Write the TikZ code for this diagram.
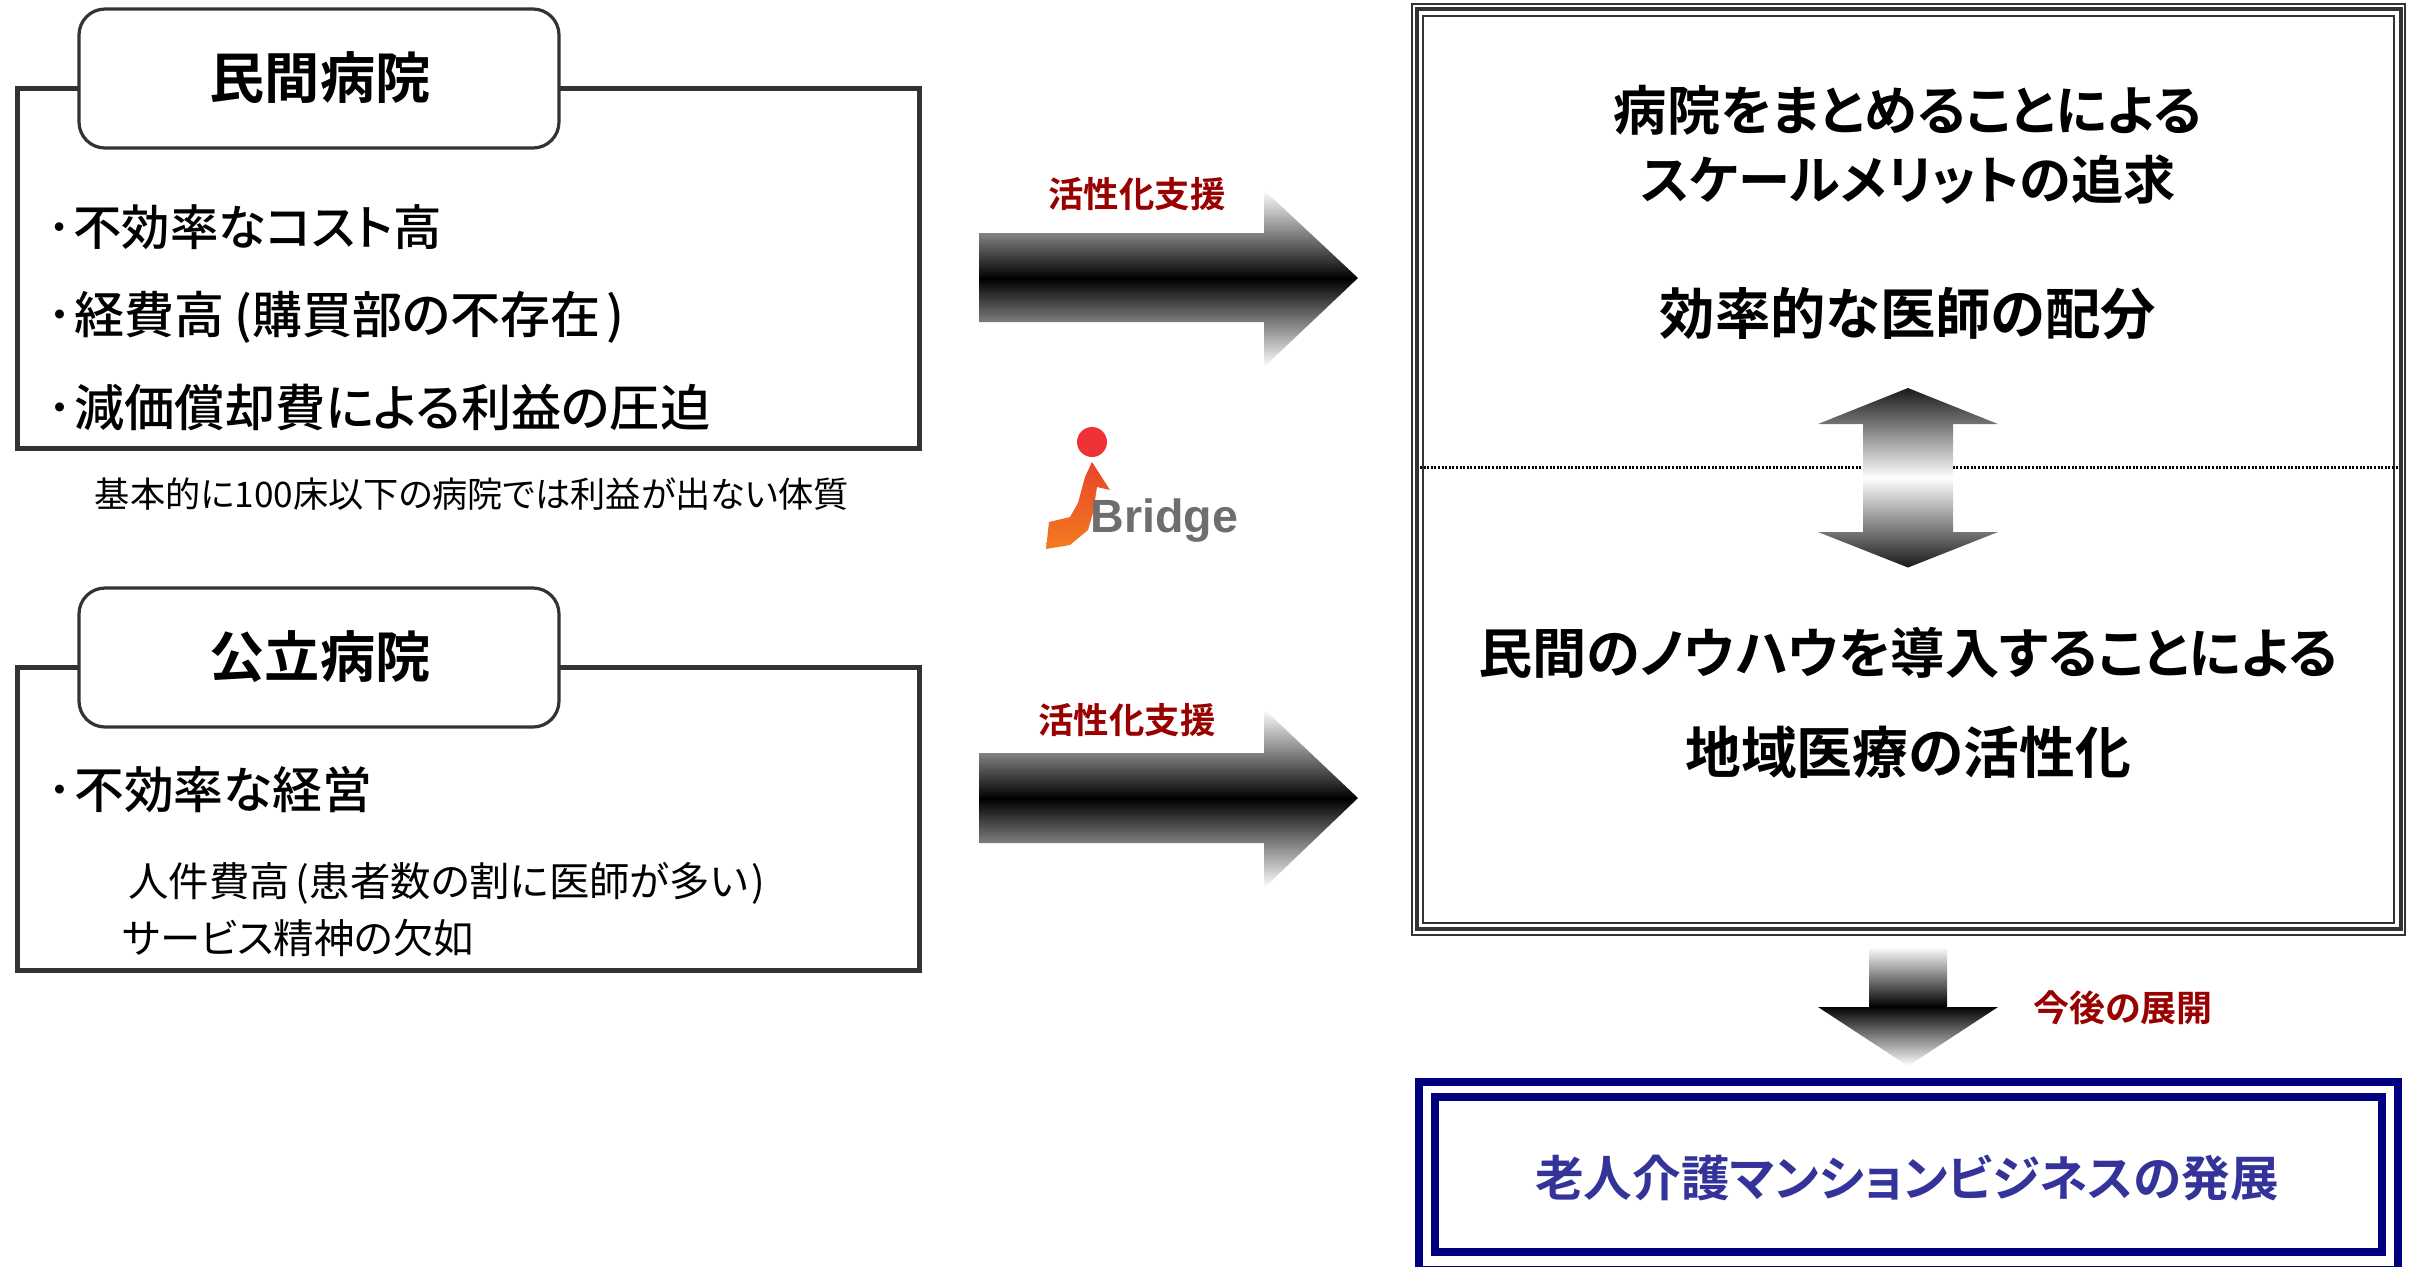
\documentclass[tikz,border=0pt]{standalone}
\usepackage{fontspec}
\setmainfont{Noto Sans CJK JP}[BoldFont={Noto Sans CJK JP Bold},RawFeature=+palt]
\newfontfamily\medfont{Noto Sans CJK JP Medium}[RawFeature=+palt]
\newfontfamily\regfont{Noto Sans CJK JP}[RawFeature=+palt]
\newfontfamily\logofont{Liberation Sans}
\definecolor{frame}{HTML}{333333}
\definecolor{dred}{HTML}{990000}
\definecolor{navyb}{HTML}{000080}
\definecolor{indigoT}{HTML}{333399}
\definecolor{logored}{HTML}{EE3338}
\definecolor{logoorange}{HTML}{F47B20}
\definecolor{logotop}{HTML}{E8452A}
\definecolor{logogray}{HTML}{6E6E6E}
\newcommand{\fs}[1]{\fontsize{#1}{#1}\selectfont}
\tikzset{
  x=0.5pt,y=-0.5pt,
  frameline/.style={draw=frame,line width=2.5pt},
  tagbox/.style={draw=frame,line width=1.6pt,fill=white,rounded corners=13pt},
  listtext/.style={anchor=west,inner sep=0pt,text=black},
  boldtext/.style={inner sep=0pt,text=black,font=\bfseries},
  redlabel/.style={inner sep=0pt,text=dred,font=\bfseries},
  sharrow/.style={top color=white,bottom color=white,middle color=black,draw=none},
  dblarrow/.style={top color=black!90,bottom color=black!90,middle color=white,draw=none},
}
\begin{document}
\begin{tikzpicture}
\useasboundingbox (0,0) rectangle (2411,1266);
% left boxes
\draw[frameline] (17,88) rectangle (919,448);
\node[tagbox,minimum width=240pt,minimum height=69.5pt] (t1) at (319,78.5) {};
\node[boldtext] (t1text) at (320,78) {\fs{27.6}民間病院};
\node[listtext] (a1) at (47,227) {\medfont\fs{24.2}･\kern1pt 不効率なコスト高};
\node[listtext] (a2) at (47,317) {\medfont\fs{25}･\kern1pt 経費高\kern5pt(購買部の不存在\kern3pt)};
\node[listtext] (a3) at (47,407) {\medfont\fs{25.1}･\kern1pt 減価償却費による利益の圧迫};
\node[inner sep=0pt] (note) at (472,494) {\regfont\fs{17.6}基本的に100床以下の病院では利益が出ない体質};
\draw[frameline] (17,667) rectangle (919,970);
\node[tagbox,minimum width=240pt,minimum height=69.5pt] (t2) at (319,657.5) {};
\node[boldtext] (t2text) at (320,657) {\fs{27.6}公立病院};
\node[listtext] (b1) at (47,790) {\medfont\fs{24.9}･\kern1pt 不効率な経営};
\node[listtext] (b2) at (128,883) {\regfont\fs{20.2}人件費高\kern3pt(患者数の割に医師が多い\kern2pt)};
\node[listtext] (b3) at (122,938) {\regfont\fs{20.2}サービス精神の欠如};
% right arrows
\shade[sharrow] (979,233) -- (1264,233) -- (1264,190) -- (1358,278) -- (1264,367) -- (1264,322) -- (979,322) -- cycle;
\shade[sharrow] (979,753) -- (1264,753) -- (1264,709) -- (1358,798) -- (1264,888) -- (1264,843) -- (979,843) -- cycle;
\node[redlabel] (l1) at (1137,194) {\fs{17.7}活性化支援};
\node[redlabel] (l2) at (1127,720) {\fs{17.7}活性化支援};
% logo
\fill[logored] (1092,442) circle (15);
\shade[bottom color=logoorange,top color=logotop,draw=none] (1046,549) -- (1049,522) -- (1070,517) -- (1078,503) -- (1085,477) -- (1092,462) -- (1110,490) -- (1097,487) -- (1093,513) -- (1088,530) -- (1070,545) -- cycle;
\node[inner sep=0pt,anchor=base west,text=logogray] (logo) at (1090,532) {\logofont\bfseries\fs{23.3}Bridge};
% right panel
\draw[draw=frame,line width=1pt] (1412,3.5) rectangle (2405,935);
\draw[draw=frame,line width=2pt] (1416.5,9) rectangle (2401,929);
\draw[draw=frame,line width=1pt] (1423,15.5) rectangle (2394,923);
\node[boldtext] (r1) at (1908,110) {\fs{26.65}病院をまとめることによる};
\node[boldtext] (r2) at (1908,180) {\fs{26.1}スケールメリットの追求};
\node[boldtext] (r3) at (1908,314) {\fs{27.7}効率的な医師の配分};
\draw[line width=1.3pt,dash pattern=on 1pt off 0.8pt,black] (1420,467.5) -- (2398,467.5);
\shade[dblarrow] (1908,388) -- (1998,424) -- (1953,424) -- (1953,532) -- (1998,532) -- (1908,567.5) -- (1818,532) -- (1863,532) -- (1863,424) -- (1818,424) -- cycle;
\node[boldtext] (r4) at (1908,653) {\fs{27.1}民間のノウハウを導入することによる};
\node[boldtext] (r5) at (1908,752) {\fs{27.9}地域医療の活性化};
% down arrow
\shade[sharrow] (1869,947) -- (1947,947) -- (1947,1007) -- (1998,1007) -- (1908,1066) -- (1818,1007) -- (1869,1007) -- cycle;
\node[redlabel] (l3) at (2123,1008) {\fs{18}今後の展開};
% blue box
\draw[draw=navyb,line width=4pt] (1419,1082) rectangle (2398,1270);
\draw[draw=navyb,line width=4pt] (1435,1097) rectangle (2382,1252);
\node[inner sep=0pt,text=indigoT,font=\bfseries] (n1) at (1907,1178) {\fs{24.3}老人介護マンションビジネスの発展};
\end{tikzpicture}
\end{document}
